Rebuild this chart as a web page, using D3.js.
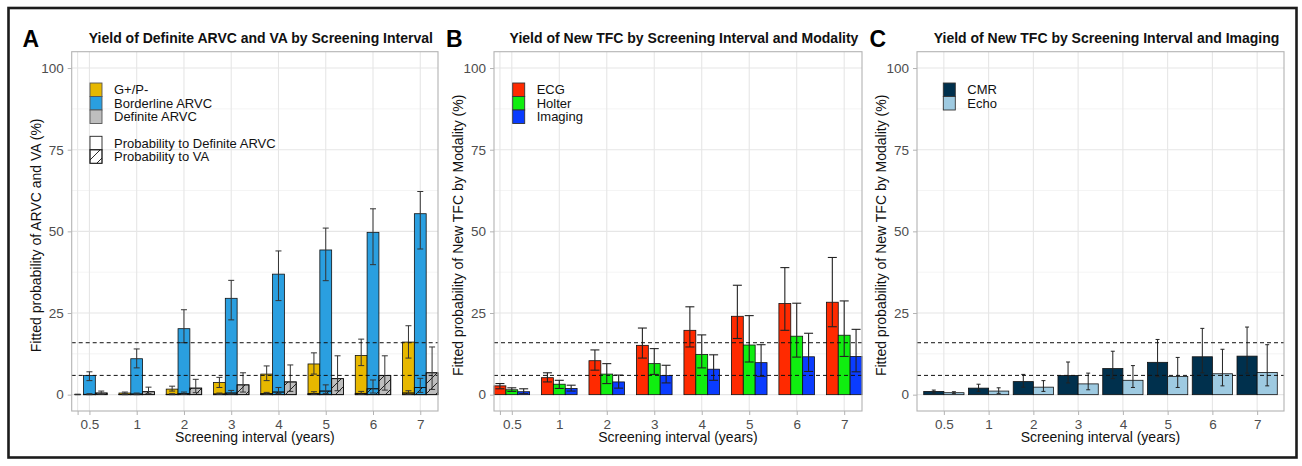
<!DOCTYPE html>
<html><head><meta charset="utf-8">
<script src="https://cdn.jsdelivr.net/npm/d3@7/dist/d3.min.js"></script>
<style>
html,body{margin:0;padding:0;background:#fff;}
svg{display:block;font-family:"Liberation Sans",Arial,sans-serif;}
</style></head>
<body>
<svg id="chart" width="1302" height="466"></svg>
<script>
// ---------- DATA ----------
const categories = ["0.5","1","2","3","4","5","6","7"];
const thresholds = [5.9, 15.9];
const yTicks = [0, 25, 50, 75, 100];

// Panel A: probability to Definite ARVC (plain bars)
const gpDef    = [0.0, 0.5, 1.7, 3.7, 6.3, 9.4, 12.0, 16.1];
const gpDefLo  = [0.0, 0.2, 1.1, 2.2, 4.3, 6.3, 8.9, 11.2];
const gpDefHi  = [0.1, 0.8, 2.6, 5.3, 8.8, 12.8, 17.0, 21.1];
const blDef    = [5.9, 11.0, 20.2, 29.5, 36.9, 44.3, 49.7, 55.4];
const blDefLo  = [4.3, 8.2, 15.9, 22.9, 28.8, 34.9, 39.8, 44.6];
const blDefHi  = [7.0, 14.0, 26.0, 35.0, 44.0, 51.0, 56.9, 62.2];
// Panel A: probability to VA (hatched bars)
const gpVA     = [0.0, 0.05, 0.1, 0.2, 0.3, 0.3, 0.4, 0.5];
const gpVALo   = [0.0, 0.0, 0.0, 0.05, 0.1, 0.1, 0.1, 0.1];
const gpVAHi   = [0.1, 0.2, 0.3, 0.5, 0.7, 0.9, 1.0, 1.2];
const blVA     = [0.1, 0.2, 0.3, 0.5, 0.8, 1.1, 1.8, 2.2];
const blVALo   = [0.0, 0.0, 0.1, 0.2, 0.3, 0.4, 0.5, 0.7];
const blVAHi   = [0.3, 0.5, 0.8, 1.3, 2.2, 3.0, 4.5, 5.0];
const defVA    = [0.5, 0.9, 2.0, 3.0, 3.9, 4.9, 5.9, 6.7];
const defVALo  = [0.1, 0.3, 0.6, 0.8, 1.0, 1.2, 1.4, 1.6];
const defVAHi  = [1.1, 2.3, 4.7, 6.7, 9.1, 11.9, 11.9, 14.6];

// Panel B
const ecg      = [2.7, 5.2, 10.4, 15.1, 19.7, 24.0, 27.9, 28.3];
const ecgLo    = [1.8, 3.9, 7.5, 11.2, 14.6, 17.2, 19.7, 20.8];
const ecgHi    = [3.4, 6.7, 13.7, 20.4, 26.9, 33.5, 38.9, 42.0];
const holter   = [1.5, 3.2, 6.3, 9.5, 12.3, 15.2, 17.9, 18.2];
const holterLo = [1.0, 1.9, 3.4, 6.2, 8.2, 10.0, 11.5, 11.7];
const holterHi = [2.1, 4.4, 9.5, 14.1, 18.3, 24.2, 28.0, 28.7];
const imaging  = [0.9, 1.9, 3.9, 5.9, 7.8, 9.8, 11.6, 11.7];
const imagingLo= [0.3, 1.1, 2.0, 3.6, 4.4, 5.6, 7.1, 7.0];
const imagingHi= [1.8, 2.9, 6.0, 9.0, 12.2, 15.3, 18.8, 20.0];

// Panel C
const cmr      = [1.0, 2.0, 4.0, 5.9, 8.0, 9.9, 11.6, 11.8];
const cmrLo    = [0.5, 1.0, 2.3, 3.6, 4.9, 5.5, 6.7, 6.6];
const cmrHi    = [1.4, 3.2, 6.2, 10.0, 13.3, 16.9, 20.3, 20.7];
const echo     = [0.6, 1.1, 2.3, 3.3, 4.4, 5.6, 6.4, 6.8];
const echoLo   = [0.3, 0.4, 1.0, 1.5, 2.2, 2.2, 2.7, 2.7];
const echoHi   = [0.9, 2.1, 4.3, 6.6, 8.9, 11.4, 13.9, 15.3];

// ---------- STYLE ----------
const COL = {gp:"#E7B800", bl:"#2A9FE0", def:"#BEBEBE",
             ecg:"#FF2A00", holter:"#10EE10", imaging:"#0A3CFF",
             cmr:"#00304D", echo:"#9ECAE1"};
const FONT = '"Liberation Sans", Arial, sans-serif';

const svg = d3.select("#chart");
const defs = svg.append("defs");
const pat = defs.append("pattern").attr("id","hatch")
  .attr("patternUnits","userSpaceOnUse").attr("width",10).attr("height",10);
pat.append("path").attr("d","M0,10 L10,0 M-2,2 L2,-2 M8,12 L12,8")
  .attr("stroke","#111").attr("stroke-width",0.9).attr("fill","none");

// outer frame
svg.append("rect").attr("x",8.5).attr("y",8).attr("width",1288).attr("height",449.5)
  .attr("fill","none").attr("stroke","#1c1c1c").attr("stroke-width",2.6);

const Y0 = 51.7, Y1 = 411;
const y = d3.scaleLinear().domain([-5,105]).range([Y1,Y0]);

function panel(cfg){
  const x = d3.scaleLinear().domain(cfg.xDomain).range([cfg.x0,cfg.x1]);
  const g = svg.append("g");
  const px = cfg.x0, pw = cfg.x1-cfg.x0;
  // grid
  [12.5,37.5,62.5,87.5].forEach(v=>g.append("line").attr("x1",px).attr("x2",cfg.x1)
    .attr("y1",y(v)).attr("y2",y(v)).attr("stroke","#EDEDED").attr("stroke-width",0.6));
  yTicks.forEach(v=>g.append("line").attr("x1",px).attr("x2",cfg.x1)
    .attr("y1",y(v)).attr("y2",y(v)).attr("stroke","#E6E6E6").attr("stroke-width",1.1));
  cfg.xTicks.forEach(v=>g.append("line").attr("x1",x(v)).attr("x2",x(v))
    .attr("y1",Y0).attr("y2",Y1).attr("stroke","#E6E6E6").attr("stroke-width",1.1));

  // bars
  cfg.draw(g, x);

  // dashed thresholds
  thresholds.forEach(v=>g.append("line").attr("x1",px).attr("x2",cfg.x1)
    .attr("y1",y(v)).attr("y2",y(v)).attr("stroke","#111").attr("stroke-width",1)
    .attr("stroke-dasharray","4,3"));

  // border
  g.append("rect").attr("x",px).attr("y",Y0).attr("width",pw).attr("height",Y1-Y0)
    .attr("fill","none").attr("stroke","#B3B3B3").attr("stroke-width",1.1);

  // axes
  const ya = g.append("g").attr("transform",`translate(${px},0)`)
    .call(d3.axisLeft(y).tickValues(yTicks).tickSize(4).tickPadding(4));
  const xa = g.append("g").attr("transform",`translate(0,${Y1})`)
    .call(d3.axisBottom(x).tickValues(cfg.xTicks).tickSize(4).tickPadding(4)
      .tickFormat(v=> v<0 ? "" : categories[v]));
  [ya,xa].forEach(a=>{
    a.select(".domain").remove();
    a.selectAll(".tick line").attr("stroke","#B3B3B3");
    a.selectAll(".tick text").attr("fill","#4D4D4D").style("font-size","13.5px").style("font-family",FONT);
  });

  // titles
  g.append("text").attr("x",(px+cfg.x1)/2+6).attr("y",42.5).attr("text-anchor","middle")
    .style("font-weight","bold").style("font-size","14px").attr("fill","#111").text(cfg.title);
  g.append("text").attr("x",cfg.labelX).attr("y",46.5)
    .style("font-weight","bold").style("font-size","23px").attr("fill","#000").text(cfg.label);
  g.append("text").attr("x",(px+cfg.x1)/2).attr("y",442).attr("text-anchor","middle")
    .style("font-size","14px").attr("fill","#111").text("Screening interval (years)");
  g.append("text").attr("transform",`translate(${px-31},${(Y0+Y1)/2+4}) rotate(-90)`)
    .attr("text-anchor","middle").style("font-size","14px").attr("fill","#111").text(cfg.ylab);

  // legend(s)
  const KH = 13.5;
  cfg.legends.forEach(L=>{
    L.items.forEach((it,i)=>{
      const ky = L.y + i*KH;
      g.append("rect").attr("x",L.x).attr("y",ky).attr("width",12).attr("height",KH)
        .attr("fill",it.fill).attr("stroke",L.stroke).attr("stroke-width",0.9);
      if(it.hatch) g.append("rect").attr("x",L.x).attr("y",ky).attr("width",12).attr("height",KH)
        .attr("fill","url(#hatch)").attr("stroke",L.stroke).attr("stroke-width",0.9);
      g.append("text").attr("x",L.x+24).attr("y",ky+KH/2).attr("dy","0.36em")
        .style("font-size","13px").attr("fill","#111").text(it.label);
    });
  });
}

function bars(g, x, vals, offset, width, fill, hatch){
  g.append("g").selectAll("rect").data(vals).join("rect")
    .attr("x",(d,i)=>x(i+offset-width/2)).attr("width",(d,i)=>x(i+offset+width/2)-x(i+offset-width/2))
    .attr("y",d=>y(d)).attr("height",d=>Math.max(0,y(0)-y(d)))
    .attr("fill",fill).attr("stroke","#111").attr("stroke-width",0.8);
  if(hatch){
    g.append("g").selectAll("rect").data(vals).join("rect")
      .attr("x",(d,i)=>x(i+offset-width/2)).attr("width",(d,i)=>x(i+offset+width/2)-x(i+offset-width/2))
      .attr("y",d=>y(d)).attr("height",d=>Math.max(0,y(0)-y(d)))
      .attr("fill","url(#hatch)").attr("stroke","#111").attr("stroke-width",0.8);
  }
}
function errs(g, x, lo, hi, offset, cap, color, sw){
  const e = g.append("g").attr("stroke",color).attr("stroke-width",sw).attr("fill","none");
  lo.forEach((l,i)=>{
    const cx = x(i+offset), h = hi[i];
    e.append("line").attr("x1",cx).attr("x2",cx).attr("y1",y(l)).attr("y2",y(h));
    e.append("line").attr("x1",cx-cap/2).attr("x2",cx+cap/2).attr("y1",y(l)).attr("y2",y(l));
    e.append("line").attr("x1",cx-cap/2).attr("x2",cx+cap/2).attr("y1",y(h)).attr("y2",y(h));
  });
}

const idxTicks = d3.range(categories.length);

panel({
  label:"A", labelX:22.5, x0:71.7, x1:438, xDomain:[-0.375,7.375], xTicks:[-0.25].concat(idxTicks),
  title:"Yield of Definite ARVC and VA by Screening Interval",
  ylab:"Fitted probability of ARVC and VA (%)",
  legends:[
    {x:90, y:83, stroke:"#555", items:[{fill:COL.gp,label:"G+/P-"},{fill:COL.bl,label:"Borderline ARVC"},{fill:COL.def,label:"Definite ARVC"}]},
    {x:90, y:136.3, stroke:"#222", items:[{fill:"#fff",label:"Probability to Definite ARVC"},{fill:"#fff",hatch:true,label:"Probability to VA"}]}
  ],
  draw:(g,x)=>{
    bars(g,x,gpDef,-0.25,0.25,COL.gp,false);
    bars(g,x,blDef,0,0.25,COL.bl,false);
    bars(g,x,gpVA,-0.25,0.25,COL.gp,true);
    bars(g,x,blVA,0,0.25,COL.bl,true);
    bars(g,x,defVA,0.25,0.25,COL.def,true);
    errs(g,x,gpDefLo,gpDefHi,-0.25,6,"#333",1);
    errs(g,x,blDefLo,blDefHi,0,6,"#333",1);
    errs(g,x,gpVALo,gpVAHi,-0.25,6,"#333",1);
    errs(g,x,blVALo,blVAHi,0,6,"#333",1);
    errs(g,x,defVALo,defVAHi,0.25,6,"#333",1);
  }
});

panel({
  label:"B", labelX:446, x0:494, x1:862, xDomain:[-0.375,7.375], xTicks:[-0.25].concat(idxTicks),
  title:"Yield of New TFC by Screening Interval and Modality",
  ylab:"Fitted probability of New TFC by Modality (%)",
  legends:[
    {x:512.7, y:83, stroke:"#333", items:[{fill:COL.ecg,label:"ECG"},{fill:COL.holter,label:"Holter"},{fill:COL.imaging,label:"Imaging"}]}
  ],
  draw:(g,x)=>{
    bars(g,x,ecg,-0.25,0.25,COL.ecg,false);
    bars(g,x,holter,0,0.25,COL.holter,false);
    bars(g,x,imaging,0.25,0.25,COL.imaging,false);
    errs(g,x,ecgLo,ecgHi,-0.25,9,"#222",1.1);
    errs(g,x,holterLo,holterHi,0,9,"#222",1.1);
    errs(g,x,imagingLo,imagingHi,0.25,9,"#222",1.1);
  }
});

panel({
  label:"C", labelX:869.5, x0:917, x1:1284, xDomain:[-0.6,7.6], xTicks:idxTicks,
  title:"Yield of New TFC by Screening Interval and Imaging",
  ylab:"Fitted probability of New TFC by Modality (%)",
  legends:[
    {x:943.3, y:83, stroke:"#333", items:[{fill:COL.cmr,label:"CMR"},{fill:COL.echo,label:"Echo"}]}
  ],
  draw:(g,x)=>{
    bars(g,x,cmr,-0.225,0.45,COL.cmr,false);
    bars(g,x,echo,0.225,0.45,COL.echo,false);
    errs(g,x,cmrLo,cmrHi,-0.225,4,"#222",1);
    errs(g,x,echoLo,echoHi,0.225,4,"#222",1);
  }
});
</script>
</body></html>
